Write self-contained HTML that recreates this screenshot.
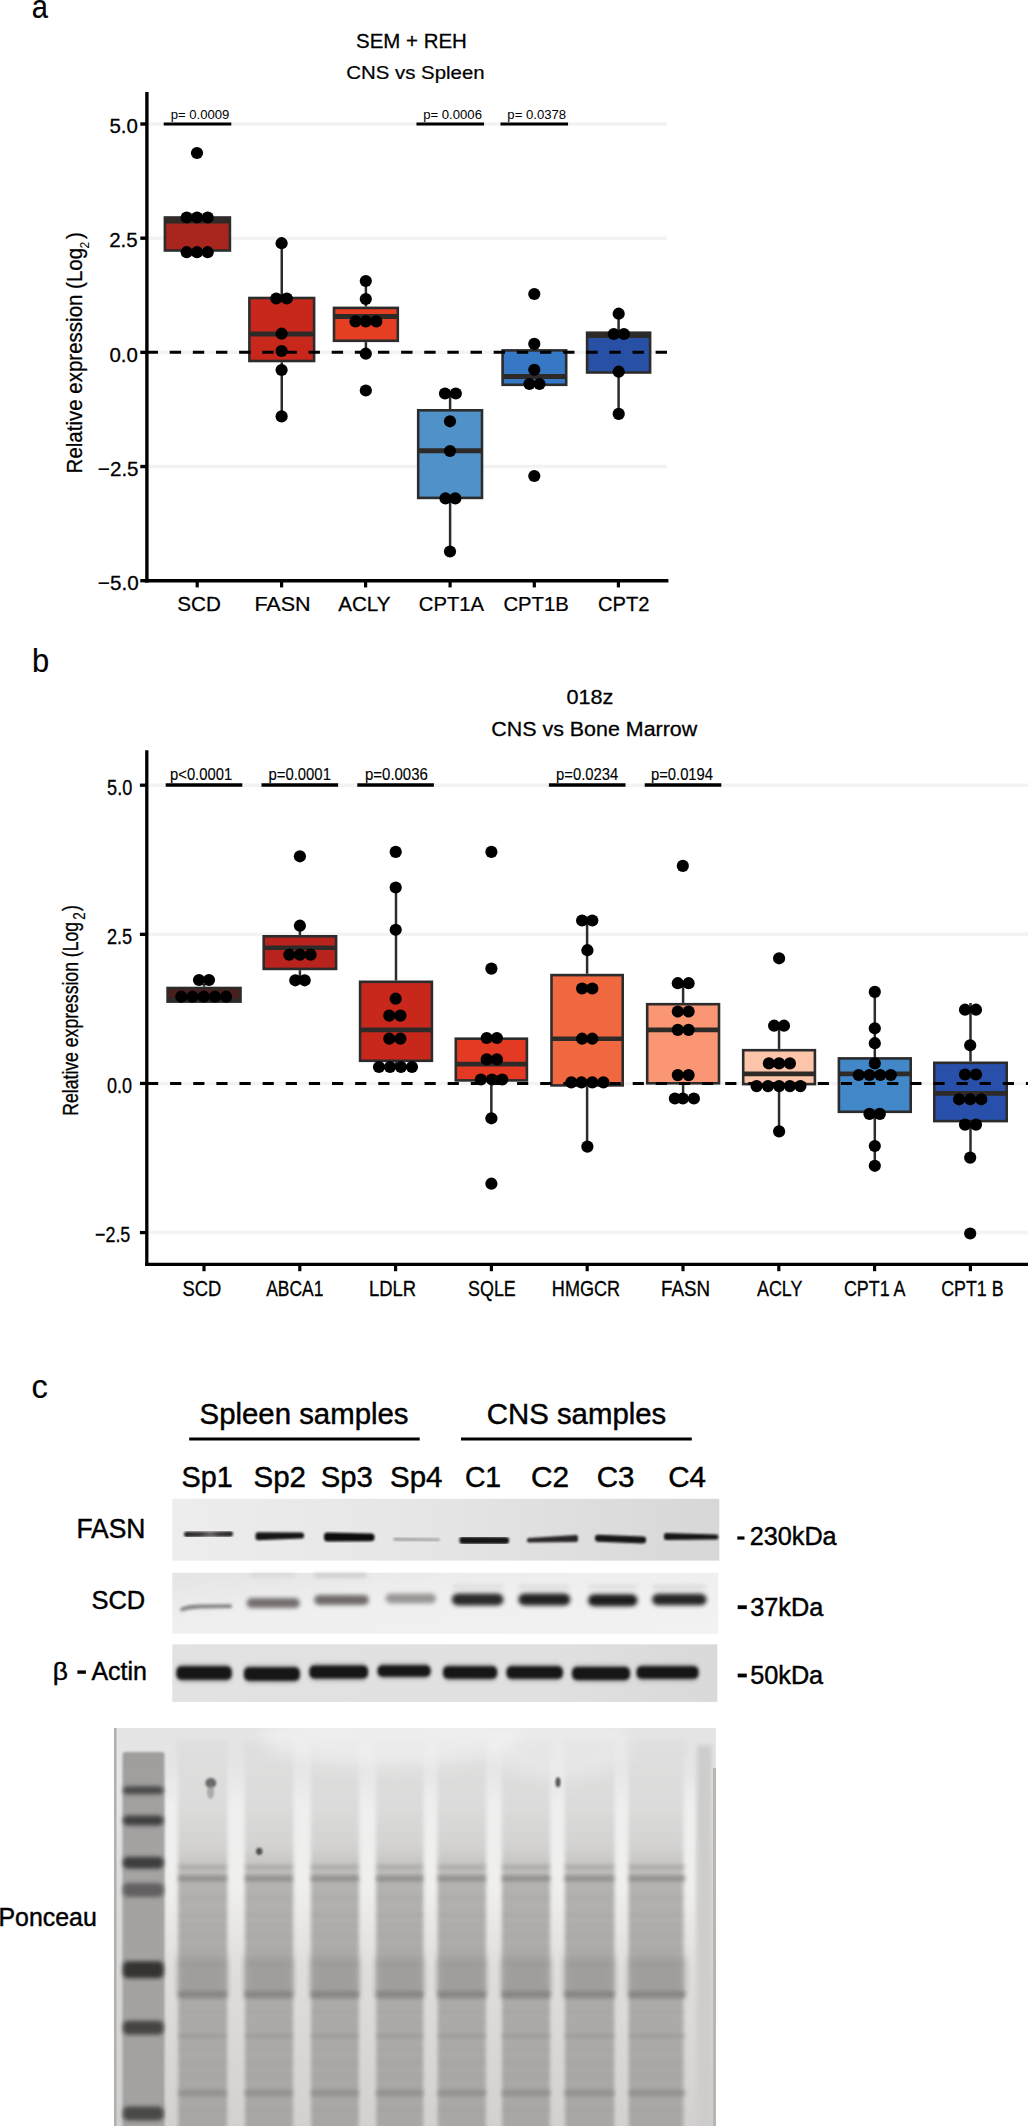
<!DOCTYPE html>
<html><head><meta charset="utf-8"><style>
html,body{margin:0;padding:0;background:#fff;}
svg{display:block;}
text{font-family:"Liberation Sans",sans-serif;stroke:#000;stroke-width:0;}
</style></head><body>
<svg width="1028" height="2126" viewBox="0 0 1028 2126">
<rect width="1028" height="2126" fill="#fff"/>
<g id="plotA">
<line x1="147.00" y1="124.00" x2="667.00" y2="124.00" stroke="#f3f3f3" stroke-width="3.5" />
<line x1="147.00" y1="238.18" x2="667.00" y2="238.18" stroke="#f3f3f3" stroke-width="3.5" />
<line x1="147.00" y1="352.35" x2="667.00" y2="352.35" stroke="#f3f3f3" stroke-width="3.5" />
<line x1="147.00" y1="466.53" x2="667.00" y2="466.53" stroke="#f3f3f3" stroke-width="3.5" />
<line x1="163.70" y1="124.00" x2="231.30" y2="124.00" stroke="#000" stroke-width="3.2" />
<line x1="416.45" y1="124.00" x2="484.05" y2="124.00" stroke="#000" stroke-width="3.2" />
<line x1="500.45" y1="124.00" x2="568.05" y2="124.00" stroke="#000" stroke-width="3.2" />
<text transform="translate(170.65,118.90) scale(1.0316,1)" font-size="12.71" fill="#000" >p= 0.0009</text>
<text transform="translate(423.14,118.90) scale(1.0349,1)" font-size="12.71" fill="#000" >p= 0.0006</text>
<text transform="translate(507.35,118.90) scale(1.0331,1)" font-size="12.71" fill="#000" >p= 0.0378</text>
<rect x="164.90" y="217.50" width="65.00" height="33.00" fill="#a8261e" stroke="#2c2c2c" stroke-width="2.6"/>
<line x1="164.90" y1="220.90" x2="229.90" y2="220.90" stroke="#2e2a28" stroke-width="5" />
<line x1="281.75" y1="243.20" x2="281.75" y2="296.70" stroke="#2c2c2c" stroke-width="2.5" />
<line x1="281.75" y1="362.30" x2="281.75" y2="416.40" stroke="#2c2c2c" stroke-width="2.5" />
<rect x="249.40" y="298.00" width="64.70" height="63.00" fill="#c8281c" stroke="#2c2c2c" stroke-width="2.6"/>
<line x1="249.40" y1="334.00" x2="314.10" y2="334.00" stroke="#2e2a28" stroke-width="5" />
<line x1="365.90" y1="281.00" x2="365.90" y2="306.60" stroke="#2c2c2c" stroke-width="2.5" />
<line x1="365.90" y1="342.10" x2="365.90" y2="353.70" stroke="#2c2c2c" stroke-width="2.5" />
<rect x="334.00" y="307.90" width="63.80" height="32.90" fill="#e63e22" stroke="#2c2c2c" stroke-width="2.6"/>
<line x1="334.00" y1="316.60" x2="397.80" y2="316.60" stroke="#2e2a28" stroke-width="5" />
<line x1="450.10" y1="393.50" x2="450.10" y2="409.00" stroke="#2c2c2c" stroke-width="2.5" />
<line x1="450.10" y1="499.20" x2="450.10" y2="551.50" stroke="#2c2c2c" stroke-width="2.5" />
<rect x="418.20" y="410.30" width="63.80" height="87.60" fill="#5092c8" stroke="#2c2c2c" stroke-width="2.6"/>
<line x1="418.20" y1="450.70" x2="482.00" y2="450.70" stroke="#2e2a28" stroke-width="5" />
<line x1="534.40" y1="343.90" x2="534.40" y2="349.10" stroke="#2c2c2c" stroke-width="2.5" />
<rect x="502.60" y="350.40" width="63.60" height="34.40" fill="#3778c4" stroke="#2c2c2c" stroke-width="2.6"/>
<line x1="502.60" y1="376.60" x2="566.20" y2="376.60" stroke="#2e2a28" stroke-width="5" />
<line x1="618.60" y1="313.70" x2="618.60" y2="331.40" stroke="#2c2c2c" stroke-width="2.5" />
<line x1="618.60" y1="373.80" x2="618.60" y2="413.90" stroke="#2c2c2c" stroke-width="2.5" />
<rect x="587.10" y="332.70" width="63.00" height="39.80" fill="#2850a5" stroke="#2c2c2c" stroke-width="2.6"/>
<line x1="587.10" y1="335.50" x2="650.10" y2="335.50" stroke="#2e2a28" stroke-width="5" />
<line x1="146.56" y1="352.35" x2="667.00" y2="352.35" stroke="#000" stroke-width="3" stroke-dasharray="11.4 11.74"/>
<circle cx="197.00" cy="153.00" r="6.1" fill="#000"/>
<circle cx="186.70" cy="217.50" r="6.1" fill="#000"/>
<circle cx="197.00" cy="217.50" r="6.1" fill="#000"/>
<circle cx="207.70" cy="217.50" r="6.1" fill="#000"/>
<circle cx="186.70" cy="252.20" r="6.1" fill="#000"/>
<circle cx="197.00" cy="252.20" r="6.1" fill="#000"/>
<circle cx="207.70" cy="252.20" r="6.1" fill="#000"/>
<circle cx="281.60" cy="243.20" r="6.1" fill="#000"/>
<circle cx="276.30" cy="298.50" r="6.1" fill="#000"/>
<circle cx="286.80" cy="298.50" r="6.1" fill="#000"/>
<circle cx="281.60" cy="333.70" r="6.1" fill="#000"/>
<circle cx="281.60" cy="351.00" r="6.1" fill="#000"/>
<circle cx="281.60" cy="370.00" r="6.1" fill="#000"/>
<circle cx="281.60" cy="416.40" r="6.1" fill="#000"/>
<circle cx="365.80" cy="281.00" r="6.1" fill="#000"/>
<circle cx="365.80" cy="299.00" r="6.1" fill="#000"/>
<circle cx="355.50" cy="321.40" r="6.1" fill="#000"/>
<circle cx="365.80" cy="321.40" r="6.1" fill="#000"/>
<circle cx="376.30" cy="321.40" r="6.1" fill="#000"/>
<circle cx="365.80" cy="353.70" r="6.1" fill="#000"/>
<circle cx="365.80" cy="390.50" r="6.1" fill="#000"/>
<circle cx="445.00" cy="393.50" r="6.1" fill="#000"/>
<circle cx="455.80" cy="393.50" r="6.1" fill="#000"/>
<circle cx="450.00" cy="421.30" r="6.1" fill="#000"/>
<circle cx="450.00" cy="451.00" r="6.1" fill="#000"/>
<circle cx="445.50" cy="498.40" r="6.1" fill="#000"/>
<circle cx="455.30" cy="498.40" r="6.1" fill="#000"/>
<circle cx="450.00" cy="551.50" r="6.1" fill="#000"/>
<circle cx="534.30" cy="294.00" r="6.1" fill="#000"/>
<circle cx="534.30" cy="343.90" r="6.1" fill="#000"/>
<circle cx="534.30" cy="369.80" r="6.1" fill="#000"/>
<circle cx="529.40" cy="384.00" r="6.1" fill="#000"/>
<circle cx="539.50" cy="384.00" r="6.1" fill="#000"/>
<circle cx="534.30" cy="476.00" r="6.1" fill="#000"/>
<circle cx="618.70" cy="313.70" r="6.1" fill="#000"/>
<circle cx="613.80" cy="334.00" r="6.1" fill="#000"/>
<circle cx="623.90" cy="334.00" r="6.1" fill="#000"/>
<circle cx="618.70" cy="371.70" r="6.1" fill="#000"/>
<circle cx="618.70" cy="413.90" r="6.1" fill="#000"/>
<line x1="146.90" y1="92.00" x2="146.90" y2="582.40" stroke="#000" stroke-width="3.4" />
<line x1="145.20" y1="580.70" x2="668.40" y2="580.70" stroke="#000" stroke-width="3.4" />
<line x1="140.30" y1="124.00" x2="147.00" y2="124.00" stroke="#000" stroke-width="3.4" />
<line x1="140.30" y1="238.18" x2="147.00" y2="238.18" stroke="#000" stroke-width="3.4" />
<line x1="140.30" y1="352.35" x2="147.00" y2="352.35" stroke="#000" stroke-width="3.4" />
<line x1="140.30" y1="466.53" x2="147.00" y2="466.53" stroke="#000" stroke-width="3.4" />
<line x1="140.30" y1="580.70" x2="147.00" y2="580.70" stroke="#000" stroke-width="3.4" />
<line x1="197.20" y1="580.70" x2="197.20" y2="587.40" stroke="#000" stroke-width="3.2" />
<line x1="281.60" y1="580.70" x2="281.60" y2="587.40" stroke="#000" stroke-width="3.2" />
<line x1="365.60" y1="580.70" x2="365.60" y2="587.40" stroke="#000" stroke-width="3.2" />
<line x1="450.10" y1="580.70" x2="450.10" y2="587.40" stroke="#000" stroke-width="3.2" />
<line x1="534.30" y1="580.70" x2="534.30" y2="587.40" stroke="#000" stroke-width="3.2" />
<line x1="618.40" y1="580.70" x2="618.40" y2="587.40" stroke="#000" stroke-width="3.2" />
<text transform="translate(109.38,133.30) scale(0.9912,1)" font-size="20.71" fill="#000" style="stroke-width:0.27px" >5.0</text>
<text transform="translate(109.17,247.48) scale(0.9915,1)" font-size="20.71" fill="#000" style="stroke-width:0.27px" >2.5</text>
<text transform="translate(109.38,361.65) scale(0.9875,1)" font-size="20.71" fill="#000" style="stroke-width:0.27px" >0.0</text>
<text transform="translate(97.87,475.83) scale(0.9962,1)" font-size="20.71" fill="#000" style="stroke-width:0.27px" >−2.5</text>
<text transform="translate(97.87,590.00) scale(0.9987,1)" font-size="20.71" fill="#000" style="stroke-width:0.27px" >−5.0</text>
<text transform="translate(177.27,610.70) scale(1.0322,1)" font-size="20.00" fill="#000" style="stroke-width:0.25px" >SCD</text>
<text transform="translate(254.38,610.70) scale(1.0776,1)" font-size="20.00" fill="#000" style="stroke-width:0.25px" >FASN</text>
<text transform="translate(338.20,610.70) scale(1.0298,1)" font-size="20.00" fill="#000" style="stroke-width:0.25px" >ACLY</text>
<text transform="translate(418.79,610.70) scale(1.0110,1)" font-size="20.00" fill="#000" style="stroke-width:0.25px" >CPT1A</text>
<text transform="translate(503.49,610.70) scale(1.0112,1)" font-size="20.00" fill="#000" style="stroke-width:0.25px" >CPT1B</text>
<text transform="translate(597.99,610.70) scale(1.0061,1)" font-size="20.00" fill="#000" style="stroke-width:0.25px" >CPT2</text>
<text transform="translate(356.08,47.90) scale(0.9943,1)" font-size="20.57" fill="#000" style="stroke-width:0.26px" >SEM + REH</text>
<text transform="translate(346.18,78.80) scale(1.0659,1)" font-size="19.17" fill="#000" style="stroke-width:0.22px" >CNS vs Spleen</text>
<text transform="translate(81.85,473.39) rotate(-90) scale(0.9600,1)" font-size="21.36" style="stroke-width:0.29px">Relative expression (Log</text>
<text transform="translate(89.20,248.60) rotate(-90) scale(1.0195,1)" font-size="11.86" style="stroke-width:0.00px">2</text>
<text transform="translate(81.85,238.90) rotate(-90) scale(0.9600,1)" font-size="21.36" style="stroke-width:0.29px">)</text>
</g>
<g id="plotB">
<line x1="147.00" y1="785.20" x2="1028.00" y2="785.20" stroke="#f3f3f3" stroke-width="3.5" />
<line x1="147.00" y1="934.33" x2="1028.00" y2="934.33" stroke="#f3f3f3" stroke-width="3.5" />
<line x1="147.00" y1="1083.45" x2="1028.00" y2="1083.45" stroke="#f3f3f3" stroke-width="3.5" />
<line x1="147.00" y1="1232.58" x2="1028.00" y2="1232.58" stroke="#f3f3f3" stroke-width="3.5" />
<line x1="165.70" y1="785.00" x2="242.30" y2="785.00" stroke="#000" stroke-width="3.3" />
<line x1="261.50" y1="785.00" x2="338.10" y2="785.00" stroke="#000" stroke-width="3.3" />
<line x1="357.30" y1="785.00" x2="433.90" y2="785.00" stroke="#000" stroke-width="3.3" />
<line x1="548.90" y1="785.00" x2="625.50" y2="785.00" stroke="#000" stroke-width="3.3" />
<line x1="644.70" y1="785.00" x2="721.30" y2="785.00" stroke="#000" stroke-width="3.3" />
<text transform="translate(170.04,780.00) scale(0.8629,1)" font-size="17.14" fill="#000" style="stroke-width:0.14px" >p&lt;0.0001</text>
<text transform="translate(268.53,780.00) scale(0.8672,1)" font-size="17.14" fill="#000" style="stroke-width:0.14px" >p=0.0001</text>
<text transform="translate(365.03,780.00) scale(0.8732,1)" font-size="17.14" fill="#000" style="stroke-width:0.14px" >p=0.0036</text>
<text transform="translate(556.04,780.00) scale(0.8654,1)" font-size="17.14" fill="#000" style="stroke-width:0.14px" >p=0.0234</text>
<text transform="translate(650.94,780.00) scale(0.8640,1)" font-size="17.14" fill="#000" style="stroke-width:0.14px" >p=0.0194</text>
<line x1="204.05" y1="984.00" x2="204.05" y2="986.70" stroke="#2c2c2c" stroke-width="2.5" />
<rect x="167.60" y="988.00" width="72.90" height="13.60" fill="#4b1e1e" stroke="#2c2c2c" stroke-width="2.6"/>
<line x1="167.60" y1="1000.00" x2="240.50" y2="1000.00" stroke="#2e2a28" stroke-width="4.6" />
<line x1="299.90" y1="925.70" x2="299.90" y2="935.00" stroke="#2c2c2c" stroke-width="2.5" />
<line x1="299.90" y1="970.20" x2="299.90" y2="980.30" stroke="#2c2c2c" stroke-width="2.5" />
<rect x="263.70" y="936.30" width="72.40" height="32.60" fill="#b9231e" stroke="#2c2c2c" stroke-width="2.6"/>
<line x1="263.70" y1="947.80" x2="336.10" y2="947.80" stroke="#2e2a28" stroke-width="4.6" />
<line x1="396.00" y1="887.50" x2="396.00" y2="980.50" stroke="#2c2c2c" stroke-width="2.5" />
<line x1="396.00" y1="1062.10" x2="396.00" y2="1067.00" stroke="#2c2c2c" stroke-width="2.5" />
<rect x="360.10" y="981.80" width="71.80" height="79.00" fill="#c8281c" stroke="#2c2c2c" stroke-width="2.6"/>
<line x1="360.10" y1="1029.90" x2="431.90" y2="1029.90" stroke="#2e2a28" stroke-width="4.6" />
<line x1="491.35" y1="1081.70" x2="491.35" y2="1118.30" stroke="#2c2c2c" stroke-width="2.5" />
<rect x="455.80" y="1038.70" width="71.10" height="41.70" fill="#e43a24" stroke="#2c2c2c" stroke-width="2.6"/>
<line x1="455.80" y1="1064.10" x2="526.90" y2="1064.10" stroke="#2e2a28" stroke-width="4.6" />
<line x1="587.10" y1="920.50" x2="587.10" y2="973.80" stroke="#2c2c2c" stroke-width="2.5" />
<line x1="587.10" y1="1086.70" x2="587.10" y2="1146.60" stroke="#2c2c2c" stroke-width="2.5" />
<rect x="551.50" y="975.10" width="71.20" height="110.30" fill="#f06840" stroke="#2c2c2c" stroke-width="2.6"/>
<line x1="551.50" y1="1038.70" x2="622.70" y2="1038.70" stroke="#2e2a28" stroke-width="4.6" />
<line x1="683.10" y1="983.20" x2="683.10" y2="1002.90" stroke="#2c2c2c" stroke-width="2.5" />
<line x1="683.10" y1="1084.60" x2="683.10" y2="1098.50" stroke="#2c2c2c" stroke-width="2.5" />
<rect x="647.20" y="1004.20" width="71.80" height="79.10" fill="#fa9673" stroke="#2c2c2c" stroke-width="2.6"/>
<line x1="647.20" y1="1029.90" x2="719.00" y2="1029.90" stroke="#2e2a28" stroke-width="4.6" />
<line x1="779.05" y1="1025.70" x2="779.05" y2="1048.90" stroke="#2c2c2c" stroke-width="2.5" />
<line x1="779.05" y1="1085.40" x2="779.05" y2="1131.40" stroke="#2c2c2c" stroke-width="2.5" />
<rect x="743.20" y="1050.20" width="71.70" height="33.90" fill="#fcc4a8" stroke="#2c2c2c" stroke-width="2.6"/>
<line x1="743.20" y1="1073.90" x2="814.90" y2="1073.90" stroke="#2e2a28" stroke-width="4.6" />
<line x1="874.80" y1="991.90" x2="874.80" y2="1057.10" stroke="#2c2c2c" stroke-width="2.5" />
<line x1="874.80" y1="1113.10" x2="874.80" y2="1165.80" stroke="#2c2c2c" stroke-width="2.5" />
<rect x="838.90" y="1058.40" width="71.80" height="53.40" fill="#4288c8" stroke="#2c2c2c" stroke-width="2.6"/>
<line x1="838.90" y1="1073.90" x2="910.70" y2="1073.90" stroke="#2e2a28" stroke-width="4.6" />
<line x1="970.50" y1="1003.00" x2="970.50" y2="1061.50" stroke="#2c2c2c" stroke-width="2.5" />
<line x1="970.50" y1="1122.40" x2="970.50" y2="1157.60" stroke="#2c2c2c" stroke-width="2.5" />
<rect x="934.30" y="1062.80" width="72.40" height="58.30" fill="#2850aa" stroke="#2c2c2c" stroke-width="2.6"/>
<line x1="934.30" y1="1093.40" x2="1006.70" y2="1093.40" stroke="#2e2a28" stroke-width="4.6" />
<line x1="146.97" y1="1083.45" x2="1028.00" y2="1083.45" stroke="#000" stroke-width="3" stroke-dasharray="11.2 11.93"/>
<circle cx="199.00" cy="980.00" r="6.1" fill="#000"/>
<circle cx="209.00" cy="980.00" r="6.1" fill="#000"/>
<circle cx="181.30" cy="996.70" r="6.1" fill="#000"/>
<circle cx="192.50" cy="996.70" r="6.1" fill="#000"/>
<circle cx="203.70" cy="996.70" r="6.1" fill="#000"/>
<circle cx="214.90" cy="996.70" r="6.1" fill="#000"/>
<circle cx="226.10" cy="996.70" r="6.1" fill="#000"/>
<circle cx="299.90" cy="856.30" r="6.1" fill="#000"/>
<circle cx="299.90" cy="925.70" r="6.1" fill="#000"/>
<circle cx="289.30" cy="954.70" r="6.1" fill="#000"/>
<circle cx="299.90" cy="954.70" r="6.1" fill="#000"/>
<circle cx="310.60" cy="954.70" r="6.1" fill="#000"/>
<circle cx="295.30" cy="980.30" r="6.1" fill="#000"/>
<circle cx="304.70" cy="980.30" r="6.1" fill="#000"/>
<circle cx="395.70" cy="851.90" r="6.1" fill="#000"/>
<circle cx="395.70" cy="887.50" r="6.1" fill="#000"/>
<circle cx="395.70" cy="929.80" r="6.1" fill="#000"/>
<circle cx="395.70" cy="998.70" r="6.1" fill="#000"/>
<circle cx="389.30" cy="1015.60" r="6.1" fill="#000"/>
<circle cx="400.40" cy="1015.60" r="6.1" fill="#000"/>
<circle cx="389.30" cy="1038.70" r="6.1" fill="#000"/>
<circle cx="400.40" cy="1038.70" r="6.1" fill="#000"/>
<circle cx="379.00" cy="1067.00" r="6.1" fill="#000"/>
<circle cx="390.00" cy="1067.00" r="6.1" fill="#000"/>
<circle cx="401.00" cy="1067.00" r="6.1" fill="#000"/>
<circle cx="412.00" cy="1067.00" r="6.1" fill="#000"/>
<circle cx="491.40" cy="851.90" r="6.1" fill="#000"/>
<circle cx="491.40" cy="968.60" r="6.1" fill="#000"/>
<circle cx="486.70" cy="1038.00" r="6.1" fill="#000"/>
<circle cx="496.90" cy="1038.00" r="6.1" fill="#000"/>
<circle cx="486.70" cy="1059.40" r="6.1" fill="#000"/>
<circle cx="496.90" cy="1059.40" r="6.1" fill="#000"/>
<circle cx="480.90" cy="1079.50" r="6.1" fill="#000"/>
<circle cx="492.00" cy="1079.50" r="6.1" fill="#000"/>
<circle cx="502.20" cy="1079.50" r="6.1" fill="#000"/>
<circle cx="491.40" cy="1118.30" r="6.1" fill="#000"/>
<circle cx="491.40" cy="1183.70" r="6.1" fill="#000"/>
<circle cx="582.10" cy="920.50" r="6.1" fill="#000"/>
<circle cx="592.30" cy="920.50" r="6.1" fill="#000"/>
<circle cx="587.40" cy="950.20" r="6.1" fill="#000"/>
<circle cx="582.10" cy="988.50" r="6.1" fill="#000"/>
<circle cx="592.30" cy="988.50" r="6.1" fill="#000"/>
<circle cx="582.10" cy="1038.70" r="6.1" fill="#000"/>
<circle cx="592.30" cy="1038.70" r="6.1" fill="#000"/>
<circle cx="571.30" cy="1082.40" r="6.1" fill="#000"/>
<circle cx="581.50" cy="1082.40" r="6.1" fill="#000"/>
<circle cx="592.30" cy="1082.40" r="6.1" fill="#000"/>
<circle cx="603.40" cy="1082.40" r="6.1" fill="#000"/>
<circle cx="587.40" cy="1146.60" r="6.1" fill="#000"/>
<circle cx="682.80" cy="865.90" r="6.1" fill="#000"/>
<circle cx="677.80" cy="983.20" r="6.1" fill="#000"/>
<circle cx="688.60" cy="983.20" r="6.1" fill="#000"/>
<circle cx="677.80" cy="1011.50" r="6.1" fill="#000"/>
<circle cx="688.60" cy="1011.50" r="6.1" fill="#000"/>
<circle cx="677.80" cy="1029.90" r="6.1" fill="#000"/>
<circle cx="688.60" cy="1029.90" r="6.1" fill="#000"/>
<circle cx="677.80" cy="1075.10" r="6.1" fill="#000"/>
<circle cx="688.60" cy="1075.10" r="6.1" fill="#000"/>
<circle cx="674.90" cy="1098.50" r="6.1" fill="#000"/>
<circle cx="682.80" cy="1098.50" r="6.1" fill="#000"/>
<circle cx="693.90" cy="1098.50" r="6.1" fill="#000"/>
<circle cx="779.10" cy="958.30" r="6.1" fill="#000"/>
<circle cx="774.10" cy="1025.70" r="6.1" fill="#000"/>
<circle cx="784.00" cy="1025.70" r="6.1" fill="#000"/>
<circle cx="768.90" cy="1063.40" r="6.1" fill="#000"/>
<circle cx="779.10" cy="1063.40" r="6.1" fill="#000"/>
<circle cx="789.90" cy="1063.40" r="6.1" fill="#000"/>
<circle cx="756.60" cy="1086.10" r="6.1" fill="#000"/>
<circle cx="768.00" cy="1086.10" r="6.1" fill="#000"/>
<circle cx="779.10" cy="1086.10" r="6.1" fill="#000"/>
<circle cx="789.90" cy="1086.10" r="6.1" fill="#000"/>
<circle cx="800.40" cy="1086.10" r="6.1" fill="#000"/>
<circle cx="779.10" cy="1131.40" r="6.1" fill="#000"/>
<circle cx="874.80" cy="991.90" r="6.1" fill="#000"/>
<circle cx="874.80" cy="1028.30" r="6.1" fill="#000"/>
<circle cx="874.80" cy="1043.20" r="6.1" fill="#000"/>
<circle cx="874.80" cy="1063.40" r="6.1" fill="#000"/>
<circle cx="858.70" cy="1075.00" r="6.1" fill="#000"/>
<circle cx="869.50" cy="1075.00" r="6.1" fill="#000"/>
<circle cx="880.30" cy="1075.00" r="6.1" fill="#000"/>
<circle cx="890.80" cy="1075.00" r="6.1" fill="#000"/>
<circle cx="869.50" cy="1113.90" r="6.1" fill="#000"/>
<circle cx="879.80" cy="1113.90" r="6.1" fill="#000"/>
<circle cx="874.80" cy="1146.00" r="6.1" fill="#000"/>
<circle cx="874.80" cy="1165.80" r="6.1" fill="#000"/>
<circle cx="965.00" cy="1009.70" r="6.1" fill="#000"/>
<circle cx="976.00" cy="1009.70" r="6.1" fill="#000"/>
<circle cx="970.20" cy="1045.30" r="6.1" fill="#000"/>
<circle cx="965.00" cy="1074.50" r="6.1" fill="#000"/>
<circle cx="976.00" cy="1074.50" r="6.1" fill="#000"/>
<circle cx="959.10" cy="1099.30" r="6.1" fill="#000"/>
<circle cx="970.20" cy="1099.30" r="6.1" fill="#000"/>
<circle cx="981.30" cy="1099.30" r="6.1" fill="#000"/>
<circle cx="965.00" cy="1124.60" r="6.1" fill="#000"/>
<circle cx="976.00" cy="1124.60" r="6.1" fill="#000"/>
<circle cx="970.20" cy="1157.60" r="6.1" fill="#000"/>
<circle cx="970.20" cy="1233.50" r="6.1" fill="#000"/>
<line x1="146.80" y1="750.20" x2="146.80" y2="1266.00" stroke="#000" stroke-width="3.3" />
<line x1="145.20" y1="1264.40" x2="1028.00" y2="1264.40" stroke="#000" stroke-width="3.3" />
<line x1="139.90" y1="785.20" x2="147.00" y2="785.20" stroke="#000" stroke-width="3.3" />
<line x1="139.90" y1="934.33" x2="147.00" y2="934.33" stroke="#000" stroke-width="3.3" />
<line x1="139.90" y1="1083.45" x2="147.00" y2="1083.45" stroke="#000" stroke-width="3.3" />
<line x1="139.90" y1="1232.58" x2="147.00" y2="1232.58" stroke="#000" stroke-width="3.3" />
<line x1="204.00" y1="1264.40" x2="204.00" y2="1271.20" stroke="#000" stroke-width="3.2" />
<line x1="299.80" y1="1264.40" x2="299.80" y2="1271.20" stroke="#000" stroke-width="3.2" />
<line x1="395.60" y1="1264.40" x2="395.60" y2="1271.20" stroke="#000" stroke-width="3.2" />
<line x1="491.40" y1="1264.40" x2="491.40" y2="1271.20" stroke="#000" stroke-width="3.2" />
<line x1="587.20" y1="1264.40" x2="587.20" y2="1271.20" stroke="#000" stroke-width="3.2" />
<line x1="683.00" y1="1264.40" x2="683.00" y2="1271.20" stroke="#000" stroke-width="3.2" />
<line x1="778.80" y1="1264.40" x2="778.80" y2="1271.20" stroke="#000" stroke-width="3.2" />
<line x1="874.60" y1="1264.40" x2="874.60" y2="1271.20" stroke="#000" stroke-width="3.2" />
<line x1="970.40" y1="1264.40" x2="970.40" y2="1271.20" stroke="#000" stroke-width="3.2" />
<text transform="translate(107.08,795.00) scale(0.8281,1)" font-size="21.86" fill="#000" style="stroke-width:0.31px" >5.0</text>
<text transform="translate(106.89,944.12) scale(0.8306,1)" font-size="21.86" fill="#000" style="stroke-width:0.31px" >2.5</text>
<text transform="translate(107.08,1093.25) scale(0.8246,1)" font-size="21.86" fill="#000" style="stroke-width:0.31px" >0.0</text>
<text transform="translate(95.01,1242.38) scale(0.8179,1)" font-size="21.86" fill="#000" style="stroke-width:0.31px" >−2.5</text>
<text transform="translate(182.57,1295.60) scale(0.8571,1)" font-size="21.43" fill="#000" style="stroke-width:0.30px" >SCD</text>
<text transform="translate(266.20,1295.60) scale(0.8136,1)" font-size="21.43" fill="#000" style="stroke-width:0.30px" >ABCA1</text>
<text transform="translate(368.93,1295.60) scale(0.8481,1)" font-size="21.74" fill="#000" style="stroke-width:0.31px" >LDLR</text>
<text transform="translate(468.10,1295.60) scale(0.8339,1)" font-size="21.43" fill="#000" style="stroke-width:0.30px" >SQLE</text>
<text transform="translate(551.85,1295.60) scale(0.8438,1)" font-size="21.43" fill="#000" style="stroke-width:0.30px" >HMGCR</text>
<text transform="translate(661.00,1295.60) scale(0.8762,1)" font-size="21.43" fill="#000" style="stroke-width:0.30px" >FASN</text>
<text transform="translate(757.00,1295.60) scale(0.8350,1)" font-size="21.43" fill="#000" style="stroke-width:0.30px" >ACLY</text>
<text transform="translate(843.91,1295.60) scale(0.8344,1)" font-size="21.43" fill="#000" style="stroke-width:0.30px" >CPT1 A</text>
<text transform="translate(941.21,1295.60) scale(0.8318,1)" font-size="21.43" fill="#000" style="stroke-width:0.30px" >CPT1 B</text>
<text transform="translate(566.43,703.50) scale(1.0468,1)" font-size="20.71" fill="#000" style="stroke-width:0.27px" >018z</text>
<text transform="translate(491.33,736.40) scale(1.0276,1)" font-size="20.86" fill="#000" style="stroke-width:0.28px" >CNS vs Bone Marrow</text>
<text transform="translate(78.00,1115.71) rotate(-90) scale(0.7904,1)" font-size="22.29" style="stroke-width:0.33px">Relative expression (Log</text>
<text transform="translate(85.00,919.77) rotate(-90) scale(0.7886,1)" font-size="17.00" style="stroke-width:0.14px">2</text>
<text transform="translate(78.00,910.99) rotate(-90) scale(0.7904,1)" font-size="22.29" style="stroke-width:0.33px">)</text>
</g>
<text transform="translate(31.63,17.70) scale(0.8962,1)" font-size="32.50" fill="#000" style="stroke-width:0.15px">a</text>
<text transform="translate(31.99,671.60) scale(0.9449,1)" font-size="32.69" fill="#000" style="stroke-width:0.15px">b</text>
<text transform="translate(31.59,1397.50) scale(1.0073,1)" font-size="32.41" fill="#000" style="stroke-width:0.15px">c</text>
<g id="panelC">
<text transform="translate(199.58,1423.60) scale(1.0028,1)" font-size="29.29" fill="#000" style="stroke-width:0.45px" >Spleen samples</text>
<text transform="translate(486.73,1423.60) scale(1.0029,1)" font-size="29.29" fill="#000" style="stroke-width:0.45px" >CNS samples</text>
<line x1="189.20" y1="1439.00" x2="419.70" y2="1439.00" stroke="#000" stroke-width="3" />
<line x1="461.00" y1="1439.00" x2="691.80" y2="1439.00" stroke="#000" stroke-width="3" />
<text transform="translate(181.50,1486.90) scale(0.9888,1)" font-size="29.14" fill="#000" style="stroke-width:0.45px" >Sp1</text>
<text transform="translate(253.47,1486.90) scale(1.0121,1)" font-size="29.14" fill="#000" style="stroke-width:0.45px" >Sp2</text>
<text transform="translate(320.68,1486.90) scale(1.0041,1)" font-size="29.14" fill="#000" style="stroke-width:0.45px" >Sp3</text>
<text transform="translate(390.08,1486.90) scale(1.0103,1)" font-size="29.14" fill="#000" style="stroke-width:0.45px" >Sp4</text>
<text transform="translate(464.88,1486.90) scale(0.9742,1)" font-size="29.14" fill="#000" style="stroke-width:0.45px" >C1</text>
<text transform="translate(531.01,1486.90) scale(1.0221,1)" font-size="29.14" fill="#000" style="stroke-width:0.45px" >C2</text>
<text transform="translate(596.72,1486.90) scale(1.0135,1)" font-size="29.14" fill="#000" style="stroke-width:0.45px" >C3</text>
<text transform="translate(668.22,1486.90) scale(1.0136,1)" font-size="29.14" fill="#000" style="stroke-width:0.45px" >C4</text>
<text transform="translate(76.38,1538.40) scale(0.9848,1)" font-size="26.86" fill="#000" style="stroke-width:0.45px" >FASN</text>
<text transform="translate(91.45,1609.00) scale(0.9647,1)" font-size="26.43" fill="#000" style="stroke-width:0.45px" >SCD</text>
<text transform="translate(52.85,1680.40) scale(1.1073,1)" font-size="23.89" fill="#000" style="stroke-width:0.38px" >β</text>
<line x1="77.40" y1="1672.10" x2="85.90" y2="1672.10" stroke="#000" stroke-width="3.4" />
<text transform="translate(91.40,1680.30) scale(1.0062,1)" font-size="24.86" fill="#000" style="stroke-width:0.41px" >Actin</text>
<line x1="737.30" y1="1538.00" x2="744.50" y2="1538.00" stroke="#000" stroke-width="3.2" />
<text transform="translate(749.74,1545.30) scale(0.9805,1)" font-size="25.71" fill="#000" style="stroke-width:0.45px" >230kDa</text>
<line x1="737.70" y1="1607.20" x2="746.80" y2="1607.20" stroke="#000" stroke-width="3.8" />
<text transform="translate(750.19,1615.70) scale(0.9879,1)" font-size="25.57" fill="#000" style="stroke-width:0.44px" >37kDa</text>
<line x1="737.70" y1="1675.50" x2="746.80" y2="1675.50" stroke="#000" stroke-width="3.8" />
<text transform="translate(750.19,1684.10) scale(0.9825,1)" font-size="25.71" fill="#000" style="stroke-width:0.45px" >50kDa</text>
<text transform="translate(-1.49,1925.60) scale(0.9628,1)" font-size="25.86" fill="#000" style="stroke-width:0.45px" >Ponceau</text>
<defs>
<filter id="b1" x="-20%" y="-200%" width="140%" height="500%"><feGaussianBlur stdDeviation="1.3"/></filter>
<filter id="b15" x="-20%" y="-200%" width="140%" height="500%"><feGaussianBlur stdDeviation="1.7"/></filter>
<filter id="b2" x="-20%" y="-200%" width="140%" height="500%"><feGaussianBlur stdDeviation="2.2"/></filter>
<filter id="b3" x="-50%" y="-50%" width="200%" height="200%"><feGaussianBlur stdDeviation="8"/></filter>
<filter id="bv" x="-100%" y="-5%" width="300%" height="110%"><feGaussianBlur stdDeviation="2.2"/></filter>
<filter id="bl" x="-10%" y="-300%" width="120%" height="700%"><feGaussianBlur stdDeviation="1.9"/></filter>
<filter id="bz" x="-10%" y="-50%" width="120%" height="200%"><feGaussianBlur stdDeviation="4"/></filter>
<linearGradient id="gbase" x1="0" y1="1728" x2="0" y2="2126" gradientUnits="userSpaceOnUse">
 <stop offset="0" stop-color="#e4e4e4"/><stop offset="0.15" stop-color="#e6e6e6"/><stop offset="0.4" stop-color="#dcdbda"/><stop offset="1" stop-color="#d2d0cf"/>
</linearGradient>
<linearGradient id="glane" x1="0" y1="1728" x2="0" y2="2126" gradientUnits="userSpaceOnUse">
 <stop offset="0" stop-color="#e0e0e0"/>
 <stop offset="0.2" stop-color="#dbdbda"/>
 <stop offset="0.3" stop-color="#d3d2d1"/>
 <stop offset="0.36" stop-color="#c2c0be"/>
 <stop offset="0.4" stop-color="#b4b2b0"/>
 <stop offset="0.55" stop-color="#afadab"/>
 <stop offset="1" stop-color="#a9a7a5"/>
</linearGradient>
<linearGradient id="ggap" x1="0" y1="1728" x2="0" y2="2126" gradientUnits="userSpaceOnUse">
 <stop offset="0" stop-color="#e2e2e2"/><stop offset="0.1" stop-color="#e5e5e5"/><stop offset="0.2" stop-color="#efefef"/><stop offset="0.4" stop-color="#efefee"/><stop offset="0.6" stop-color="#e0dedd"/><stop offset="1" stop-color="#d3d1d0"/>
</linearGradient>
<linearGradient id="gladder" x1="0" y1="1750" x2="0" y2="2126" gradientUnits="userSpaceOnUse">
 <stop offset="0" stop-color="#a09e9d"/><stop offset="0.3" stop-color="#a6a4a3"/><stop offset="1" stop-color="#a4a2a1"/>
</linearGradient>
<linearGradient id="gfasn" x1="0" y1="0" x2="1" y2="0">
 <stop offset="0" stop-color="#ededed"/><stop offset="0.45" stop-color="#e6e6e6"/><stop offset="1" stop-color="#d7d7d7"/>
</linearGradient>
<linearGradient id="gscd" x1="0" y1="0" x2="1" y2="1">
 <stop offset="0" stop-color="#e4e4e4"/><stop offset="0.4" stop-color="#efefef"/><stop offset="1" stop-color="#f2f2f2"/>
</linearGradient>
<linearGradient id="gact" x1="0" y1="0" x2="1" y2="0">
 <stop offset="0" stop-color="#e2e2e2"/><stop offset="0.7" stop-color="#e0e0e0"/><stop offset="1" stop-color="#d9d9d9"/>
</linearGradient>
</defs>
<rect x="172.3" y="1498.8" width="547" height="61.8" fill="url(#gfasn)"/>
<linearGradient id="gsp1" x1="0" y1="0" x2="1" y2="0"><stop offset="0" stop-color="#2a2626"/><stop offset="0.3" stop-color="#3a3636"/><stop offset="0.55" stop-color="#6a6666"/><stop offset="0.75" stop-color="#3a3636"/><stop offset="1" stop-color="#2a2626"/></linearGradient>
<path d="M186.5,1534.1 L230.5,1533.7 L230.5,1534.3 L186.5,1534.7 Z" fill="url(#gsp1)" stroke="url(#gsp1)" stroke-width="5.0" stroke-linejoin="round" opacity="1" filter="url(#b1)"/>
<path d="M258.2,1534.9 L301.3,1535.3 L301.3,1535.9 L258.2,1537.5 Z" fill="#141212" stroke="#141212" stroke-width="5.4" stroke-linejoin="round" opacity="1" filter="url(#b1)"/>
<path d="M327.4,1535.9 L371.1,1537.0 L371.1,1537.8 L327.4,1538.1 Z" fill="#0e0c0c" stroke="#0e0c0c" stroke-width="6.8" stroke-linejoin="round" opacity="1" filter="url(#b1)"/>
<path d="M394.6,1538.8 L438.9,1539.5 L438.9,1539.7 L394.6,1539.6 Z" fill="#a09c9c" stroke="#a09c9c" stroke-width="2.2" stroke-linejoin="round" opacity="1" filter="url(#b1)"/>
<path d="M462.6,1539.6 L505.9,1540.1 L505.9,1540.8 L462.6,1540.8 Z" fill="#151313" stroke="#151313" stroke-width="6.3" stroke-linejoin="round" opacity="1" filter="url(#b1)"/>
<path d="M529.0,1540.0 L576.0,1537.1 L576.0,1540.1 L529.0,1540.4 Z" fill="#2a2626" stroke="#2a2626" stroke-width="4.0" stroke-linejoin="round" opacity="1" filter="url(#b1)"/>
<path d="M598.1,1537.9 L642.9,1539.7 L642.9,1540.3 L598.1,1538.5 Z" fill="#141212" stroke="#141212" stroke-width="6.3" stroke-linejoin="round" opacity="1" filter="url(#b1)"/>
<path d="M666.2,1535.3 L716.1,1536.8 L716.1,1537.2 L666.2,1537.8 Z" fill="#141212" stroke="#141212" stroke-width="4.5" stroke-linejoin="round" opacity="1" filter="url(#b1)"/>
<rect x="172.3" y="1572.8" width="546" height="61" fill="url(#gscd)"/>
<rect x="250.0" y="1573.2" width="46.0" height="4.0" rx="2.0" fill="#a0a0a0" opacity="0.22" filter="url(#b2)"/>
<rect x="314.0" y="1573.2" width="53.0" height="4.0" rx="2.0" fill="#a0a0a0" opacity="0.45" filter="url(#b2)"/>
<rect x="452.0" y="1585.0" width="52.0" height="4.0" rx="2.0" fill="#a0a0a0" opacity="0.25" filter="url(#b2)"/>
<rect x="518.0" y="1585.0" width="52.0" height="4.0" rx="2.0" fill="#a0a0a0" opacity="0.25" filter="url(#b2)"/>
<rect x="588.0" y="1585.0" width="50.0" height="4.0" rx="2.0" fill="#a0a0a0" opacity="0.25" filter="url(#b2)"/>
<rect x="652.0" y="1585.0" width="54.0" height="4.0" rx="2.0" fill="#a0a0a0" opacity="0.3" filter="url(#b2)"/>
<rect x="246.7" y="1598.1" width="53.1" height="10.0" rx="5.0" fill="#767070" opacity="1" filter="url(#b2)"/>
<rect x="314.3" y="1594.9" width="54.5" height="10.0" rx="5.0" fill="#716a6a" opacity="1" filter="url(#b2)"/>
<rect x="385.6" y="1593.5" width="50.4" height="10.0" rx="5.0" fill="#9a9696" opacity="1" filter="url(#b2)"/>
<rect x="451.8" y="1593.4" width="51.7" height="12.0" rx="6.0" fill="#2c2c2c" opacity="1" filter="url(#b2)"/>
<rect x="518.4" y="1593.4" width="51.9" height="12.0" rx="6.0" fill="#222" opacity="1" filter="url(#b2)"/>
<rect x="588.1" y="1594.3" width="49.4" height="12.0" rx="6.0" fill="#1c1c1c" opacity="1" filter="url(#b2)"/>
<rect x="652.1" y="1593.7" width="54.5" height="11.5" rx="5.8" fill="#262626" opacity="1" filter="url(#b2)"/>
<path d="M180,1608.2 Q186,1604.6 200,1604.4 L231.7,1604.2 L231.7,1608 L200,1608.4 Q188,1609 181,1611.5 Z" fill="#848080" filter="url(#b15)"/>
<rect x="172.3" y="1644.3" width="545" height="57.6" fill="url(#gact)"/>
<rect x="176.4" y="1663.8" width="55.3" height="18.5" rx="6.0" fill="#555" opacity="0.35" filter="url(#b2)"/>
<rect x="176.4" y="1666.2" width="55.3" height="13.5" rx="5.0" fill="#161616" opacity="1" filter="url(#b15)"/>
<rect x="244.0" y="1664.8" width="55.8" height="18.5" rx="6.0" fill="#555" opacity="0.35" filter="url(#b2)"/>
<rect x="244.0" y="1667.2" width="55.8" height="13.5" rx="5.0" fill="#161616" opacity="1" filter="url(#b15)"/>
<rect x="309.4" y="1663.1" width="58.6" height="17.8" rx="6.0" fill="#555" opacity="0.35" filter="url(#b2)"/>
<rect x="309.4" y="1665.6" width="58.6" height="12.8" rx="5.0" fill="#161616" opacity="1" filter="url(#b15)"/>
<rect x="377.5" y="1662.8" width="53.1" height="16.5" rx="6.0" fill="#555" opacity="0.35" filter="url(#b2)"/>
<rect x="377.5" y="1665.2" width="53.1" height="11.5" rx="5.0" fill="#161616" opacity="1" filter="url(#b15)"/>
<rect x="443.1" y="1663.8" width="54.0" height="17.5" rx="6.0" fill="#555" opacity="0.35" filter="url(#b2)"/>
<rect x="443.1" y="1666.3" width="54.0" height="12.5" rx="5.0" fill="#161616" opacity="1" filter="url(#b15)"/>
<rect x="506.5" y="1663.8" width="56.3" height="17.5" rx="6.0" fill="#555" opacity="0.35" filter="url(#b2)"/>
<rect x="506.5" y="1666.3" width="56.3" height="12.5" rx="5.0" fill="#161616" opacity="1" filter="url(#b15)"/>
<rect x="572.1" y="1664.5" width="57.8" height="18.0" rx="6.0" fill="#555" opacity="0.35" filter="url(#b2)"/>
<rect x="572.1" y="1667.0" width="57.8" height="13.0" rx="5.0" fill="#161616" opacity="1" filter="url(#b15)"/>
<rect x="636.6" y="1663.8" width="61.9" height="17.5" rx="6.0" fill="#555" opacity="0.35" filter="url(#b2)"/>
<rect x="636.6" y="1666.2" width="61.9" height="12.5" rx="5.0" fill="#161616" opacity="1" filter="url(#b15)"/>
<clipPath id="gelclip"><rect x="114" y="1728" width="602" height="398"/></clipPath>
<g clip-path="url(#gelclip)">
<rect x="114" y="1728" width="602" height="398" fill="url(#gbase)"/>
<rect x="176.5" y="1740" width="52.099999999999994" height="396" fill="url(#glane)" filter="url(#bv)"/>
<rect x="243" y="1740" width="51.5" height="396" fill="url(#glane)" filter="url(#bv)"/>
<rect x="309" y="1740" width="51.5" height="396" fill="url(#glane)" filter="url(#bv)"/>
<rect x="374.5" y="1740" width="50.5" height="396" fill="url(#glane)" filter="url(#bv)"/>
<rect x="436" y="1740" width="51.69999999999999" height="396" fill="url(#glane)" filter="url(#bv)"/>
<rect x="500" y="1740" width="52" height="396" fill="url(#glane)" filter="url(#bv)"/>
<rect x="562.7" y="1740" width="53.299999999999955" height="396" fill="url(#glane)" filter="url(#bv)"/>
<rect x="627" y="1740" width="60" height="396" fill="url(#glane)" filter="url(#bv)"/>
<rect x="164.5" y="1755" width="13" height="381" fill="url(#ggap)" filter="url(#bv)"/>
<rect x="228.0" y="1755" width="16.5" height="381" fill="url(#ggap)" filter="url(#bv)"/>
<rect x="294.0" y="1755" width="16.5" height="381" fill="url(#ggap)" filter="url(#bv)"/>
<rect x="359.5" y="1755" width="16" height="381" fill="url(#ggap)" filter="url(#bv)"/>
<rect x="424.0" y="1755" width="13.0" height="381" fill="url(#ggap)" filter="url(#bv)"/>
<rect x="486.5" y="1755" width="15" height="381" fill="url(#ggap)" filter="url(#bv)"/>
<rect x="550.5" y="1755" width="14" height="381" fill="url(#ggap)" filter="url(#bv)"/>
<rect x="615.0" y="1755" width="13.0" height="381" fill="url(#ggap)" filter="url(#bv)"/>
<rect x="683.5" y="1755" width="13" height="381" fill="url(#ggap)" filter="url(#bv)"/>
<rect x="697" y="1745" width="15" height="391" fill="#cfcdcc" filter="url(#bv)"/>
<rect x="178.5" y="1956" width="48.099999999999994" height="40" fill="#989593" opacity="0.6" filter="url(#bz)"/>
<rect x="178.5" y="1865.2" width="48.1" height="3.5" rx="1.0" fill="#8a8886" opacity="0.55" filter="url(#bl)"/>
<rect x="178.5" y="1875.6" width="48.1" height="6.0" rx="1.0" fill="#858381" opacity="0.8" filter="url(#bl)"/>
<rect x="178.5" y="1896.5" width="48.1" height="3.0" rx="1.0" fill="#8a8886" opacity="0.15" filter="url(#bl)"/>
<rect x="178.5" y="1913.5" width="48.1" height="3.0" rx="1.0" fill="#8a8886" opacity="0.2" filter="url(#bl)"/>
<rect x="178.5" y="1923.5" width="48.1" height="3.0" rx="1.0" fill="#8a8886" opacity="0.12" filter="url(#bl)"/>
<rect x="178.5" y="1934.5" width="48.1" height="3.0" rx="1.0" fill="#8a8886" opacity="0.22" filter="url(#bl)"/>
<rect x="178.5" y="1946.5" width="48.1" height="3.0" rx="1.0" fill="#8a8886" opacity="0.12" filter="url(#bl)"/>
<rect x="178.5" y="1962.5" width="48.1" height="3.0" rx="1.0" fill="#8a8886" opacity="0.2" filter="url(#bl)"/>
<rect x="178.5" y="2010.5" width="48.1" height="3.0" rx="1.0" fill="#8a8886" opacity="0.15" filter="url(#bl)"/>
<rect x="178.5" y="2022.5" width="48.1" height="3.0" rx="1.0" fill="#8a8886" opacity="0.12" filter="url(#bl)"/>
<rect x="178.5" y="2034.0" width="48.1" height="4.0" rx="1.0" fill="#8a8886" opacity="0.45" filter="url(#bl)"/>
<rect x="178.5" y="2048.5" width="48.1" height="3.0" rx="1.0" fill="#8a8886" opacity="0.12" filter="url(#bl)"/>
<rect x="178.5" y="2061.5" width="48.1" height="3.0" rx="1.0" fill="#8a8886" opacity="0.18" filter="url(#bl)"/>
<rect x="178.5" y="2074.5" width="48.1" height="3.0" rx="1.0" fill="#8a8886" opacity="0.12" filter="url(#bl)"/>
<rect x="178.5" y="2090.0" width="48.1" height="6.0" rx="1.0" fill="#85827f" opacity="0.65" filter="url(#bl)"/>
<rect x="178.5" y="2108.5" width="48.1" height="3.0" rx="1.0" fill="#8a8886" opacity="0.18" filter="url(#bl)"/>
<rect x="178.5" y="1991.2" width="48.1" height="6.5" rx="1.0" fill="#807d7b" opacity="0.85" filter="url(#bl)"/>
<rect x="245" y="1956" width="47.5" height="40" fill="#989593" opacity="0.6" filter="url(#bz)"/>
<rect x="245.0" y="1865.2" width="47.5" height="3.5" rx="1.0" fill="#8a8886" opacity="0.55" filter="url(#bl)"/>
<rect x="245.0" y="1875.6" width="47.5" height="6.0" rx="1.0" fill="#858381" opacity="0.8" filter="url(#bl)"/>
<rect x="245.0" y="1896.5" width="47.5" height="3.0" rx="1.0" fill="#8a8886" opacity="0.15" filter="url(#bl)"/>
<rect x="245.0" y="1913.5" width="47.5" height="3.0" rx="1.0" fill="#8a8886" opacity="0.2" filter="url(#bl)"/>
<rect x="245.0" y="1923.5" width="47.5" height="3.0" rx="1.0" fill="#8a8886" opacity="0.12" filter="url(#bl)"/>
<rect x="245.0" y="1934.5" width="47.5" height="3.0" rx="1.0" fill="#8a8886" opacity="0.22" filter="url(#bl)"/>
<rect x="245.0" y="1946.5" width="47.5" height="3.0" rx="1.0" fill="#8a8886" opacity="0.12" filter="url(#bl)"/>
<rect x="245.0" y="1962.5" width="47.5" height="3.0" rx="1.0" fill="#8a8886" opacity="0.2" filter="url(#bl)"/>
<rect x="245.0" y="2010.5" width="47.5" height="3.0" rx="1.0" fill="#8a8886" opacity="0.15" filter="url(#bl)"/>
<rect x="245.0" y="2022.5" width="47.5" height="3.0" rx="1.0" fill="#8a8886" opacity="0.12" filter="url(#bl)"/>
<rect x="245.0" y="2034.0" width="47.5" height="4.0" rx="1.0" fill="#8a8886" opacity="0.45" filter="url(#bl)"/>
<rect x="245.0" y="2048.5" width="47.5" height="3.0" rx="1.0" fill="#8a8886" opacity="0.12" filter="url(#bl)"/>
<rect x="245.0" y="2061.5" width="47.5" height="3.0" rx="1.0" fill="#8a8886" opacity="0.18" filter="url(#bl)"/>
<rect x="245.0" y="2074.5" width="47.5" height="3.0" rx="1.0" fill="#8a8886" opacity="0.12" filter="url(#bl)"/>
<rect x="245.0" y="2090.0" width="47.5" height="6.0" rx="1.0" fill="#85827f" opacity="0.65" filter="url(#bl)"/>
<rect x="245.0" y="2108.5" width="47.5" height="3.0" rx="1.0" fill="#8a8886" opacity="0.18" filter="url(#bl)"/>
<rect x="245.0" y="1991.2" width="47.5" height="6.5" rx="1.0" fill="#807d7b" opacity="0.85" filter="url(#bl)"/>
<rect x="311" y="1956" width="47.5" height="40" fill="#989593" opacity="0.6" filter="url(#bz)"/>
<rect x="311.0" y="1865.2" width="47.5" height="3.5" rx="1.0" fill="#8a8886" opacity="0.55" filter="url(#bl)"/>
<rect x="311.0" y="1875.6" width="47.5" height="6.0" rx="1.0" fill="#858381" opacity="0.8" filter="url(#bl)"/>
<rect x="311.0" y="1896.5" width="47.5" height="3.0" rx="1.0" fill="#8a8886" opacity="0.15" filter="url(#bl)"/>
<rect x="311.0" y="1913.5" width="47.5" height="3.0" rx="1.0" fill="#8a8886" opacity="0.2" filter="url(#bl)"/>
<rect x="311.0" y="1923.5" width="47.5" height="3.0" rx="1.0" fill="#8a8886" opacity="0.12" filter="url(#bl)"/>
<rect x="311.0" y="1934.5" width="47.5" height="3.0" rx="1.0" fill="#8a8886" opacity="0.22" filter="url(#bl)"/>
<rect x="311.0" y="1946.5" width="47.5" height="3.0" rx="1.0" fill="#8a8886" opacity="0.12" filter="url(#bl)"/>
<rect x="311.0" y="1962.5" width="47.5" height="3.0" rx="1.0" fill="#8a8886" opacity="0.2" filter="url(#bl)"/>
<rect x="311.0" y="2010.5" width="47.5" height="3.0" rx="1.0" fill="#8a8886" opacity="0.15" filter="url(#bl)"/>
<rect x="311.0" y="2022.5" width="47.5" height="3.0" rx="1.0" fill="#8a8886" opacity="0.12" filter="url(#bl)"/>
<rect x="311.0" y="2034.0" width="47.5" height="4.0" rx="1.0" fill="#8a8886" opacity="0.45" filter="url(#bl)"/>
<rect x="311.0" y="2048.5" width="47.5" height="3.0" rx="1.0" fill="#8a8886" opacity="0.12" filter="url(#bl)"/>
<rect x="311.0" y="2061.5" width="47.5" height="3.0" rx="1.0" fill="#8a8886" opacity="0.18" filter="url(#bl)"/>
<rect x="311.0" y="2074.5" width="47.5" height="3.0" rx="1.0" fill="#8a8886" opacity="0.12" filter="url(#bl)"/>
<rect x="311.0" y="2090.0" width="47.5" height="6.0" rx="1.0" fill="#85827f" opacity="0.65" filter="url(#bl)"/>
<rect x="311.0" y="2108.5" width="47.5" height="3.0" rx="1.0" fill="#8a8886" opacity="0.18" filter="url(#bl)"/>
<rect x="311.0" y="1991.2" width="47.5" height="6.5" rx="1.0" fill="#807d7b" opacity="0.85" filter="url(#bl)"/>
<rect x="376.5" y="1956" width="46.5" height="40" fill="#989593" opacity="0.6" filter="url(#bz)"/>
<rect x="376.5" y="1865.2" width="46.5" height="3.5" rx="1.0" fill="#8a8886" opacity="0.55" filter="url(#bl)"/>
<rect x="376.5" y="1875.6" width="46.5" height="6.0" rx="1.0" fill="#858381" opacity="0.8" filter="url(#bl)"/>
<rect x="376.5" y="1896.5" width="46.5" height="3.0" rx="1.0" fill="#8a8886" opacity="0.15" filter="url(#bl)"/>
<rect x="376.5" y="1913.5" width="46.5" height="3.0" rx="1.0" fill="#8a8886" opacity="0.2" filter="url(#bl)"/>
<rect x="376.5" y="1923.5" width="46.5" height="3.0" rx="1.0" fill="#8a8886" opacity="0.12" filter="url(#bl)"/>
<rect x="376.5" y="1934.5" width="46.5" height="3.0" rx="1.0" fill="#8a8886" opacity="0.22" filter="url(#bl)"/>
<rect x="376.5" y="1946.5" width="46.5" height="3.0" rx="1.0" fill="#8a8886" opacity="0.12" filter="url(#bl)"/>
<rect x="376.5" y="1962.5" width="46.5" height="3.0" rx="1.0" fill="#8a8886" opacity="0.2" filter="url(#bl)"/>
<rect x="376.5" y="2010.5" width="46.5" height="3.0" rx="1.0" fill="#8a8886" opacity="0.15" filter="url(#bl)"/>
<rect x="376.5" y="2022.5" width="46.5" height="3.0" rx="1.0" fill="#8a8886" opacity="0.12" filter="url(#bl)"/>
<rect x="376.5" y="2034.0" width="46.5" height="4.0" rx="1.0" fill="#8a8886" opacity="0.45" filter="url(#bl)"/>
<rect x="376.5" y="2048.5" width="46.5" height="3.0" rx="1.0" fill="#8a8886" opacity="0.12" filter="url(#bl)"/>
<rect x="376.5" y="2061.5" width="46.5" height="3.0" rx="1.0" fill="#8a8886" opacity="0.18" filter="url(#bl)"/>
<rect x="376.5" y="2074.5" width="46.5" height="3.0" rx="1.0" fill="#8a8886" opacity="0.12" filter="url(#bl)"/>
<rect x="376.5" y="2090.0" width="46.5" height="6.0" rx="1.0" fill="#85827f" opacity="0.65" filter="url(#bl)"/>
<rect x="376.5" y="2108.5" width="46.5" height="3.0" rx="1.0" fill="#8a8886" opacity="0.18" filter="url(#bl)"/>
<rect x="376.5" y="1991.2" width="46.5" height="6.5" rx="1.0" fill="#807d7b" opacity="0.85" filter="url(#bl)"/>
<rect x="438" y="1956" width="47.69999999999999" height="40" fill="#989593" opacity="0.6" filter="url(#bz)"/>
<rect x="438.0" y="1865.2" width="47.7" height="3.5" rx="1.0" fill="#8a8886" opacity="0.55" filter="url(#bl)"/>
<rect x="438.0" y="1875.6" width="47.7" height="6.0" rx="1.0" fill="#858381" opacity="0.8" filter="url(#bl)"/>
<rect x="438.0" y="1896.5" width="47.7" height="3.0" rx="1.0" fill="#8a8886" opacity="0.15" filter="url(#bl)"/>
<rect x="438.0" y="1913.5" width="47.7" height="3.0" rx="1.0" fill="#8a8886" opacity="0.2" filter="url(#bl)"/>
<rect x="438.0" y="1923.5" width="47.7" height="3.0" rx="1.0" fill="#8a8886" opacity="0.12" filter="url(#bl)"/>
<rect x="438.0" y="1934.5" width="47.7" height="3.0" rx="1.0" fill="#8a8886" opacity="0.22" filter="url(#bl)"/>
<rect x="438.0" y="1946.5" width="47.7" height="3.0" rx="1.0" fill="#8a8886" opacity="0.12" filter="url(#bl)"/>
<rect x="438.0" y="1962.5" width="47.7" height="3.0" rx="1.0" fill="#8a8886" opacity="0.2" filter="url(#bl)"/>
<rect x="438.0" y="2010.5" width="47.7" height="3.0" rx="1.0" fill="#8a8886" opacity="0.15" filter="url(#bl)"/>
<rect x="438.0" y="2022.5" width="47.7" height="3.0" rx="1.0" fill="#8a8886" opacity="0.12" filter="url(#bl)"/>
<rect x="438.0" y="2034.0" width="47.7" height="4.0" rx="1.0" fill="#8a8886" opacity="0.45" filter="url(#bl)"/>
<rect x="438.0" y="2048.5" width="47.7" height="3.0" rx="1.0" fill="#8a8886" opacity="0.12" filter="url(#bl)"/>
<rect x="438.0" y="2061.5" width="47.7" height="3.0" rx="1.0" fill="#8a8886" opacity="0.18" filter="url(#bl)"/>
<rect x="438.0" y="2074.5" width="47.7" height="3.0" rx="1.0" fill="#8a8886" opacity="0.12" filter="url(#bl)"/>
<rect x="438.0" y="2090.0" width="47.7" height="6.0" rx="1.0" fill="#85827f" opacity="0.65" filter="url(#bl)"/>
<rect x="438.0" y="2108.5" width="47.7" height="3.0" rx="1.0" fill="#8a8886" opacity="0.18" filter="url(#bl)"/>
<rect x="438.0" y="1991.2" width="47.7" height="6.5" rx="1.0" fill="#807d7b" opacity="0.85" filter="url(#bl)"/>
<rect x="502" y="1956" width="48" height="40" fill="#989593" opacity="0.6" filter="url(#bz)"/>
<rect x="502.0" y="1865.2" width="48.0" height="3.5" rx="1.0" fill="#8a8886" opacity="0.55" filter="url(#bl)"/>
<rect x="502.0" y="1875.6" width="48.0" height="6.0" rx="1.0" fill="#858381" opacity="0.8" filter="url(#bl)"/>
<rect x="502.0" y="1896.5" width="48.0" height="3.0" rx="1.0" fill="#8a8886" opacity="0.15" filter="url(#bl)"/>
<rect x="502.0" y="1913.5" width="48.0" height="3.0" rx="1.0" fill="#8a8886" opacity="0.2" filter="url(#bl)"/>
<rect x="502.0" y="1923.5" width="48.0" height="3.0" rx="1.0" fill="#8a8886" opacity="0.12" filter="url(#bl)"/>
<rect x="502.0" y="1934.5" width="48.0" height="3.0" rx="1.0" fill="#8a8886" opacity="0.22" filter="url(#bl)"/>
<rect x="502.0" y="1946.5" width="48.0" height="3.0" rx="1.0" fill="#8a8886" opacity="0.12" filter="url(#bl)"/>
<rect x="502.0" y="1962.5" width="48.0" height="3.0" rx="1.0" fill="#8a8886" opacity="0.2" filter="url(#bl)"/>
<rect x="502.0" y="2010.5" width="48.0" height="3.0" rx="1.0" fill="#8a8886" opacity="0.15" filter="url(#bl)"/>
<rect x="502.0" y="2022.5" width="48.0" height="3.0" rx="1.0" fill="#8a8886" opacity="0.12" filter="url(#bl)"/>
<rect x="502.0" y="2034.0" width="48.0" height="4.0" rx="1.0" fill="#8a8886" opacity="0.45" filter="url(#bl)"/>
<rect x="502.0" y="2048.5" width="48.0" height="3.0" rx="1.0" fill="#8a8886" opacity="0.12" filter="url(#bl)"/>
<rect x="502.0" y="2061.5" width="48.0" height="3.0" rx="1.0" fill="#8a8886" opacity="0.18" filter="url(#bl)"/>
<rect x="502.0" y="2074.5" width="48.0" height="3.0" rx="1.0" fill="#8a8886" opacity="0.12" filter="url(#bl)"/>
<rect x="502.0" y="2090.0" width="48.0" height="6.0" rx="1.0" fill="#85827f" opacity="0.65" filter="url(#bl)"/>
<rect x="502.0" y="2108.5" width="48.0" height="3.0" rx="1.0" fill="#8a8886" opacity="0.18" filter="url(#bl)"/>
<rect x="502.0" y="1991.2" width="48.0" height="6.5" rx="1.0" fill="#807d7b" opacity="0.85" filter="url(#bl)"/>
<rect x="564.7" y="1956" width="49.299999999999955" height="40" fill="#989593" opacity="0.6" filter="url(#bz)"/>
<rect x="564.7" y="1865.2" width="49.3" height="3.5" rx="1.0" fill="#8a8886" opacity="0.55" filter="url(#bl)"/>
<rect x="564.7" y="1875.6" width="49.3" height="6.0" rx="1.0" fill="#858381" opacity="0.8" filter="url(#bl)"/>
<rect x="564.7" y="1896.5" width="49.3" height="3.0" rx="1.0" fill="#8a8886" opacity="0.15" filter="url(#bl)"/>
<rect x="564.7" y="1913.5" width="49.3" height="3.0" rx="1.0" fill="#8a8886" opacity="0.2" filter="url(#bl)"/>
<rect x="564.7" y="1923.5" width="49.3" height="3.0" rx="1.0" fill="#8a8886" opacity="0.12" filter="url(#bl)"/>
<rect x="564.7" y="1934.5" width="49.3" height="3.0" rx="1.0" fill="#8a8886" opacity="0.22" filter="url(#bl)"/>
<rect x="564.7" y="1946.5" width="49.3" height="3.0" rx="1.0" fill="#8a8886" opacity="0.12" filter="url(#bl)"/>
<rect x="564.7" y="1962.5" width="49.3" height="3.0" rx="1.0" fill="#8a8886" opacity="0.2" filter="url(#bl)"/>
<rect x="564.7" y="2010.5" width="49.3" height="3.0" rx="1.0" fill="#8a8886" opacity="0.15" filter="url(#bl)"/>
<rect x="564.7" y="2022.5" width="49.3" height="3.0" rx="1.0" fill="#8a8886" opacity="0.12" filter="url(#bl)"/>
<rect x="564.7" y="2034.0" width="49.3" height="4.0" rx="1.0" fill="#8a8886" opacity="0.45" filter="url(#bl)"/>
<rect x="564.7" y="2048.5" width="49.3" height="3.0" rx="1.0" fill="#8a8886" opacity="0.12" filter="url(#bl)"/>
<rect x="564.7" y="2061.5" width="49.3" height="3.0" rx="1.0" fill="#8a8886" opacity="0.18" filter="url(#bl)"/>
<rect x="564.7" y="2074.5" width="49.3" height="3.0" rx="1.0" fill="#8a8886" opacity="0.12" filter="url(#bl)"/>
<rect x="564.7" y="2090.0" width="49.3" height="6.0" rx="1.0" fill="#85827f" opacity="0.65" filter="url(#bl)"/>
<rect x="564.7" y="2108.5" width="49.3" height="3.0" rx="1.0" fill="#8a8886" opacity="0.18" filter="url(#bl)"/>
<rect x="564.7" y="1991.2" width="49.3" height="6.5" rx="1.0" fill="#807d7b" opacity="0.85" filter="url(#bl)"/>
<rect x="629" y="1956" width="56" height="40" fill="#989593" opacity="0.6" filter="url(#bz)"/>
<rect x="629.0" y="1865.2" width="56.0" height="3.5" rx="1.0" fill="#8a8886" opacity="0.55" filter="url(#bl)"/>
<rect x="629.0" y="1875.6" width="56.0" height="6.0" rx="1.0" fill="#858381" opacity="0.8" filter="url(#bl)"/>
<rect x="629.0" y="1896.5" width="56.0" height="3.0" rx="1.0" fill="#8a8886" opacity="0.15" filter="url(#bl)"/>
<rect x="629.0" y="1913.5" width="56.0" height="3.0" rx="1.0" fill="#8a8886" opacity="0.2" filter="url(#bl)"/>
<rect x="629.0" y="1923.5" width="56.0" height="3.0" rx="1.0" fill="#8a8886" opacity="0.12" filter="url(#bl)"/>
<rect x="629.0" y="1934.5" width="56.0" height="3.0" rx="1.0" fill="#8a8886" opacity="0.22" filter="url(#bl)"/>
<rect x="629.0" y="1946.5" width="56.0" height="3.0" rx="1.0" fill="#8a8886" opacity="0.12" filter="url(#bl)"/>
<rect x="629.0" y="1962.5" width="56.0" height="3.0" rx="1.0" fill="#8a8886" opacity="0.2" filter="url(#bl)"/>
<rect x="629.0" y="2010.5" width="56.0" height="3.0" rx="1.0" fill="#8a8886" opacity="0.15" filter="url(#bl)"/>
<rect x="629.0" y="2022.5" width="56.0" height="3.0" rx="1.0" fill="#8a8886" opacity="0.12" filter="url(#bl)"/>
<rect x="629.0" y="2034.0" width="56.0" height="4.0" rx="1.0" fill="#8a8886" opacity="0.45" filter="url(#bl)"/>
<rect x="629.0" y="2048.5" width="56.0" height="3.0" rx="1.0" fill="#8a8886" opacity="0.12" filter="url(#bl)"/>
<rect x="629.0" y="2061.5" width="56.0" height="3.0" rx="1.0" fill="#8a8886" opacity="0.18" filter="url(#bl)"/>
<rect x="629.0" y="2074.5" width="56.0" height="3.0" rx="1.0" fill="#8a8886" opacity="0.12" filter="url(#bl)"/>
<rect x="629.0" y="2090.0" width="56.0" height="6.0" rx="1.0" fill="#85827f" opacity="0.65" filter="url(#bl)"/>
<rect x="629.0" y="2108.5" width="56.0" height="3.0" rx="1.0" fill="#8a8886" opacity="0.18" filter="url(#bl)"/>
<rect x="629.0" y="1991.2" width="56.0" height="6.5" rx="1.0" fill="#807d7b" opacity="0.85" filter="url(#bl)"/>
<ellipse cx="390" cy="1738" rx="130" ry="28" fill="#f6f6f6" opacity="0.55" filter="url(#b3)"/>
<ellipse cx="560" cy="1745" rx="70" ry="35" fill="#f4f4f4" opacity="0.4" filter="url(#b3)"/>
<rect x="122.5" y="1752" width="42" height="380" rx="3" fill="url(#gladder)" filter="url(#b1)"/>
<rect x="123.0" y="1786.3" width="40.5" height="8.0" rx="5.0" fill="#4a4a4a" opacity="1" filter="url(#b2)"/>
<rect x="123.0" y="1815.5" width="40.5" height="10.0" rx="5.0" fill="#404040" opacity="1" filter="url(#b2)"/>
<rect x="123.0" y="1856.8" width="40.5" height="12.0" rx="5.0" fill="#3c3c3c" opacity="1" filter="url(#b2)"/>
<rect x="123.0" y="1883.0" width="40.5" height="14.0" rx="5.0" fill="#626060" opacity="1" filter="url(#b2)"/>
<rect x="123.0" y="1961.3" width="40.5" height="17.0" rx="5.0" fill="#343232" opacity="1" filter="url(#b2)"/>
<rect x="123.0" y="2020.7" width="40.5" height="14.0" rx="5.0" fill="#464443" opacity="1" filter="url(#b2)"/>
<rect x="123.0" y="2106.5" width="40.5" height="14.0" rx="5.0" fill="#4a4847" opacity="1" filter="url(#b2)"/>
<ellipse cx="210.8" cy="1783" rx="5.5" ry="5" fill="#6a6a6a" filter="url(#b1)"/>
<ellipse cx="210.5" cy="1792" rx="3.5" ry="7" fill="#8a8a8a" opacity="0.6" filter="url(#b1)"/>
<ellipse cx="259.2" cy="1851.3" rx="3.2" ry="3.6" fill="#505050" filter="url(#b1)"/>
<ellipse cx="558" cy="1782.2" rx="2.5" ry="5" fill="#555" filter="url(#b1)"/>
<rect x="114" y="1728" width="2.5" height="398" fill="#b0b0b0"/>
<rect x="713" y="1768" width="3" height="358" fill="#b8b6b4"/>
</g>
</g>
</svg>
</body></html>
